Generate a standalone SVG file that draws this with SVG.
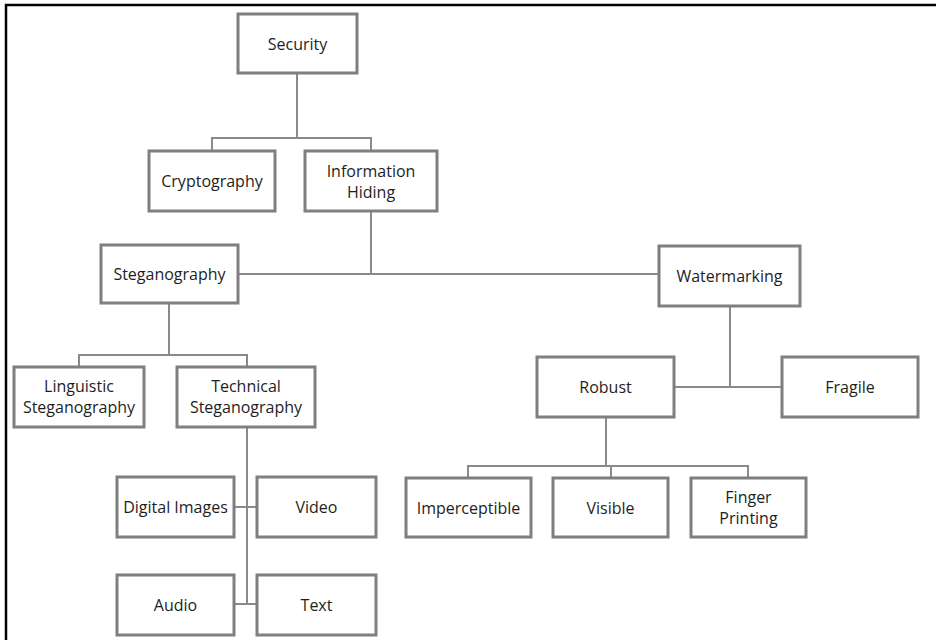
<svg xmlns="http://www.w3.org/2000/svg" width="936" height="640" viewBox="0 0 936 640">
<style>
.box{fill:#fff;stroke:#7f7f7f;stroke-width:3}
.lbl{font-family:"Open Sans","Liberation Sans",sans-serif;font-size:16px;fill:#1e1e1e;text-anchor:middle;dominant-baseline:central}
.conn{fill:none;stroke:#8a8a8a;stroke-width:2}
.frame{stroke:#000;stroke-width:2.5;fill:none}
</style>
<rect width="936" height="640" fill="#fff"/>
<path class="frame" d="M6,640 V5 H936"/>
<g id="connectors">
<path class="conn" d="M297,73 V138 M212,151 V138 H371 V151"/>
<path class="conn" d="M371,211 V274 M238,274 H659"/>
<path class="conn" d="M169,303 V355 M79,367 V355 H247 V367"/>
<path class="conn" d="M247,427 V604 M234,507 H257 M234,604 H257"/>
<path class="conn" d="M730,306 V387 M674,387 H782"/>
<path class="conn" d="M606,417 V466 M468,478 V466 H748 V478 M611,466 V478"/>
</g>
<g id="security"><rect class="box" x="238" y="14" width="119" height="59"/><text class="lbl" x="297.5" y="43.5">Security</text></g>
<g id="cryptography"><rect class="box" x="149" y="151" width="126" height="60"/><text class="lbl" x="212" y="181">Cryptography</text></g>
<g id="information-hiding"><rect class="box" x="305" y="151" width="132" height="60"/><text class="lbl" x="371" y="171">Information</text><text class="lbl" x="371" y="192">Hiding</text></g>
<g id="steganography"><rect class="box" x="101" y="245" width="137" height="58"/><text class="lbl" x="169.5" y="274">Steganography</text></g>
<g id="watermarking"><rect class="box" x="659" y="246" width="141" height="60"/><text class="lbl" x="729.5" y="276">Watermarking</text></g>
<g id="linguistic"><rect class="box" x="14" y="367" width="130" height="60"/><text class="lbl" x="79" y="386">Linguistic</text><text class="lbl" x="79" y="407">Steganography</text></g>
<g id="technical"><rect class="box" x="177" y="367" width="138" height="60"/><text class="lbl" x="246" y="386">Technical</text><text class="lbl" x="246" y="407">Steganography</text></g>
<g id="robust"><rect class="box" x="537" y="357" width="137" height="60"/><text class="lbl" x="605.5" y="387">Robust</text></g>
<g id="fragile"><rect class="box" x="782" y="357" width="136" height="60"/><text class="lbl" x="850" y="387">Fragile</text></g>
<g id="digital-images"><rect class="box" x="117" y="477" width="117" height="60"/><text class="lbl" x="175.5" y="507">Digital Images</text></g>
<g id="video"><rect class="box" x="257" y="477" width="119" height="60"/><text class="lbl" x="316.5" y="507">Video</text></g>
<g id="audio"><rect class="box" x="117" y="575" width="117" height="60"/><text class="lbl" x="175.5" y="605">Audio</text></g>
<g id="text"><rect class="box" x="257" y="575" width="119" height="60"/><text class="lbl" x="316.5" y="605">Text</text></g>
<g id="imperceptible"><rect class="box" x="406" y="478" width="125" height="59"/><text class="lbl" x="468.5" y="507.5">Imperceptible</text></g>
<g id="visible"><rect class="box" x="553" y="478" width="115" height="59"/><text class="lbl" x="610.5" y="507.5">Visible</text></g>
<g id="finger-printing"><rect class="box" x="691" y="478" width="115" height="59"/><text class="lbl" x="748.5" y="497">Finger</text><text class="lbl" x="748.5" y="518">Printing</text></g>
</svg>
